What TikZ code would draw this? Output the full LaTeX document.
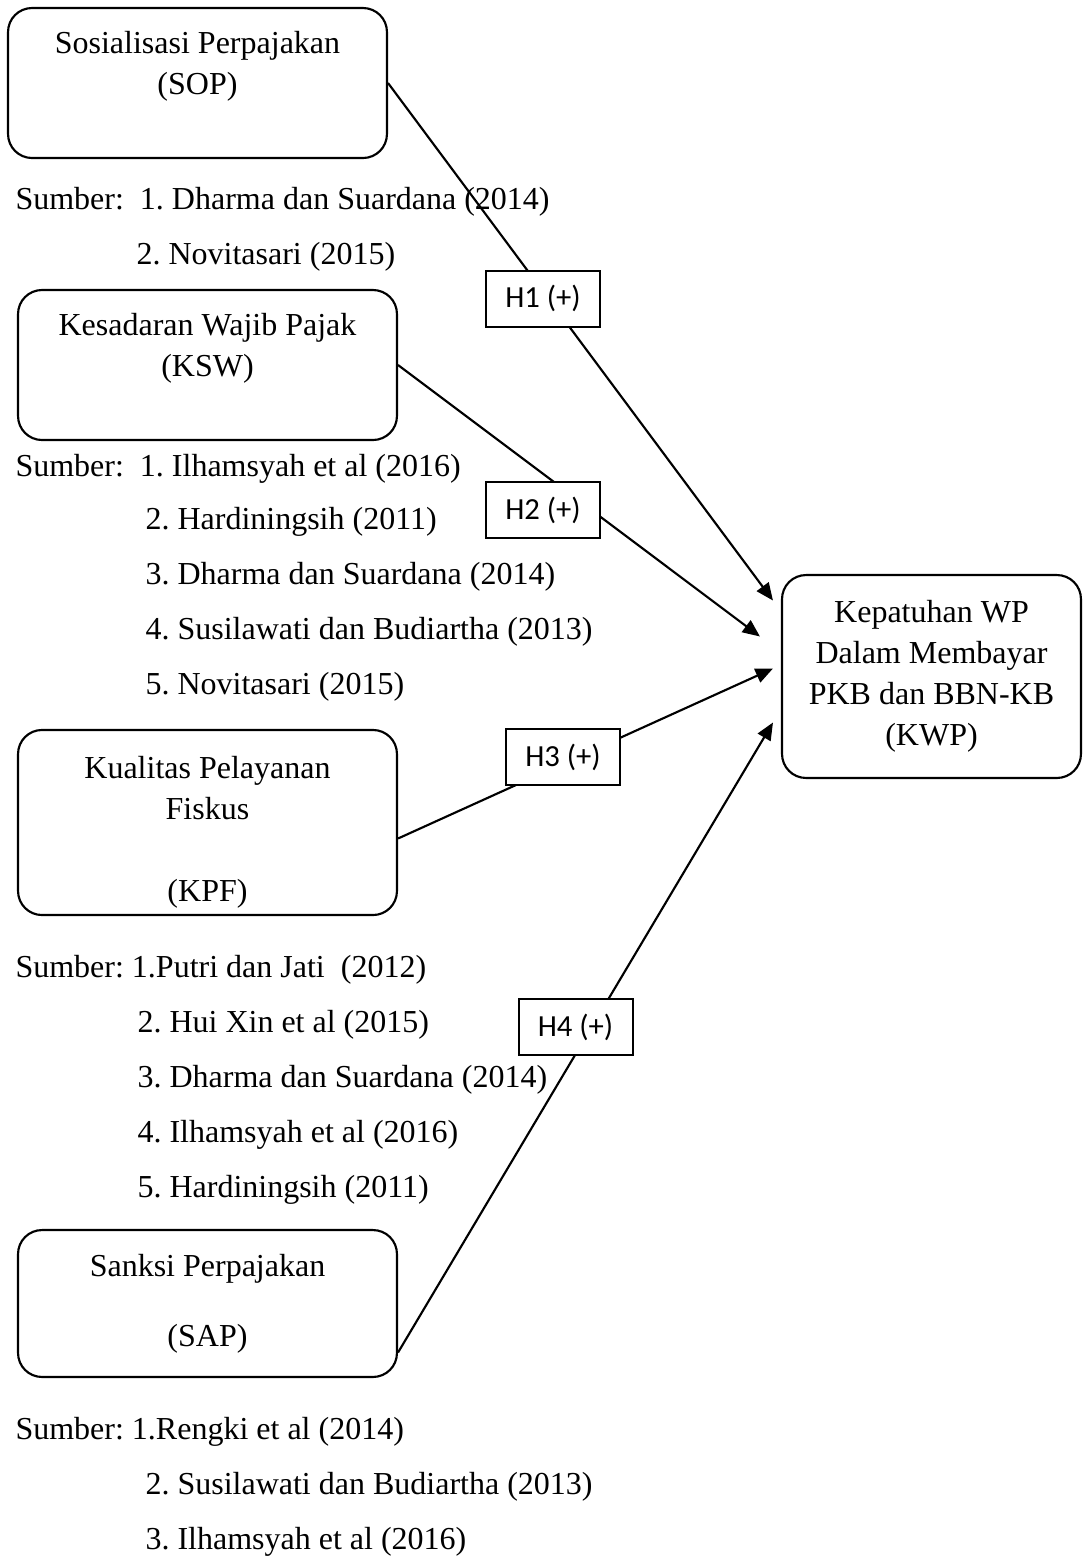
\documentclass[tikz,border=0pt]{standalone}
\usepackage{fontspec}
\setmainfont{Liberation Serif}
\newfontfamily\hfont{Carlito}
\usetikzlibrary{arrows.meta, calc}
\frenchspacing

\begin{document}
\begin{tikzpicture}[
        x=0.375pt, y=-0.375pt,
        var/.style={draw, rounded corners=9pt, line width=0.8pt, inner sep=0pt, align=center, minimum width=142.1pt, font=\fontsize{12}{15.4}\selectfont},
        hyp/.style={draw, fill=white, line width=0.75pt, minimum width=42.75pt, minimum height=21pt, inner sep=0pt, font=\hfont\fontsize{11.5}{13}\selectfont},
        src/.style={anchor=base west, inner sep=0pt, font=\fontsize{12}{14}\selectfont},
        link/.style={line width=0.8pt, -{Triangle[length=6.5pt, width=5.5pt]}}
    ]
        \useasboundingbox (0,0) rectangle (1083,1558);

        % Independent variables
        \node[var, minimum height=56.25pt] (sop) at (197.5,83) {Sosialisasi Perpajakan\\(SOP)\\\mbox{}};
        \node[var, minimum height=56.25pt] (ksw) at (207.5,365) {Kesadaran Wajib Pajak\\(KSW)\\\mbox{}};
        \node[var, minimum height=69.4pt] (kpf) at (207.5,822.5) {\rule{0pt}{15.7pt}Kualitas Pelayanan\\Fiskus\\\mbox{}\\(KPF)};
        \node[var, minimum height=55.1pt] (sap) at (207.5,1303.5) {Sanksi Perpajakan\\[10.9pt](SAP)};

        % Dependent variable
        \node[var, minimum width=112.1pt, minimum height=76.1pt] (kwp) at (931.5,676.5) {Kepatuhan WP\\Dalam Membayar\\PKB dan BBN-KB\\(KWP)};

        % Sources
        \node[src] (sop1) at (15,209) {Sumber:\ \ 1. Dharma dan Suardana (2014)};
        \node[src] (sop2) at (136,264) {2. Novitasari (2015)};

        \node[src] (ksw1) at (15,476) {Sumber:\ \ 1. Ilhamsyah et al (2016)};
        \node[src] (ksw2) at (145,529) {2. Hardiningsih (2011)};
        \node[src] (ksw3) at (145,584) {3. Dharma dan Suardana (2014)};
        \node[src] (ksw4) at (145,639) {4. Susilawati dan Budiartha (2013)};
        \node[src] (ksw5) at (145,694) {5. Novitasari (2015)};

        \node[src] (kpf1) at (15,977) {Sumber: 1.Putri dan Jati\ \ (2012)};
        \node[src] (kpf2) at (137,1032) {2. Hui Xin et al (2015)};
        \node[src] (kpf3) at (137,1087) {3. Dharma dan Suardana (2014)};
        \node[src] (kpf4) at (137,1142) {4. Ilhamsyah et al (2016)};
        \node[src] (kpf5) at (137,1197) {5. Hardiningsih (2011)};

        \node[src] (sap1) at (15,1439) {Sumber: 1.Rengki et al (2014)};
        \node[src] (sap2) at (145,1494) {2. Susilawati dan Budiartha (2013)};
        \node[src] (sap3) at (145,1549) {3. Ilhamsyah et al (2016)};

        % Hypotheses
        \draw[link] (sop.east) -- ($(kwp.west)+(-8,-76)$);
        \draw[link] (ksw.east) -- ($(kwp.west)+(-21,-40)$);
        \draw[link] ($(kpf.east)+(0,16)$) -- ($(kwp.west)+(-8,-8)$);
        \draw[link] ($(sap.east)+(0,49)$) -- ($(kwp.west)+(-8,46)$);

        \node[hyp] (h1) at (543,298.5) {H1 (+)};
        \node[hyp] (h2) at (543,510) {H2 (+)};
        \node[hyp] (h3) at (563,757) {H3 (+)};
        \node[hyp] (h4) at (575.5,1027) {H4 (+)};

    \end{tikzpicture}
\end{document}
